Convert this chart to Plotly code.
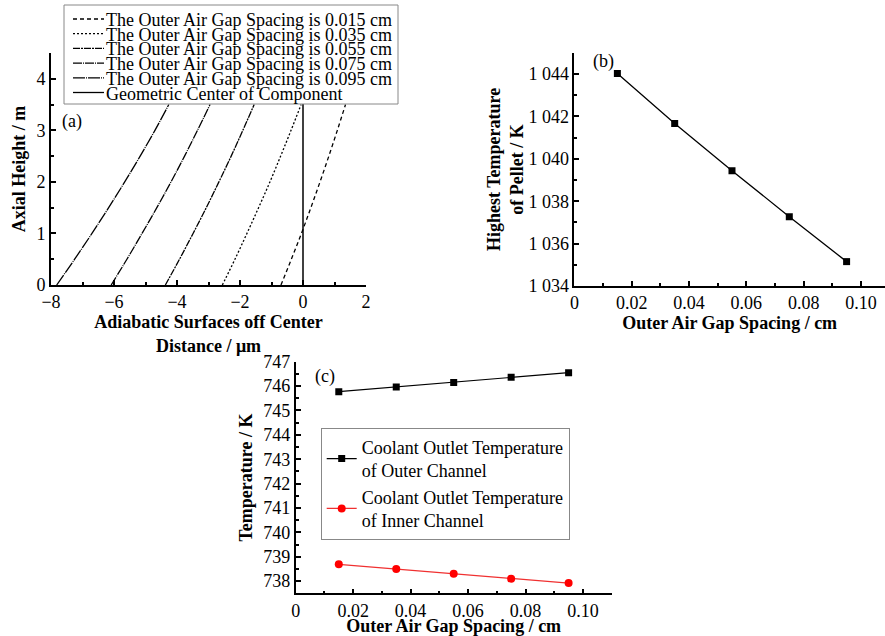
import plotly.graph_objects as go

FONT = "Liberation Serif, Times New Roman, serif"
W, H = 885, 636

# ---------------- data ----------------
# panel (a): axial height vs. adiabatic surface offset (um)
axial_height = [0, 0.5, 1.0, 1.5, 2.0, 2.5, 3.0, 3.5]
offset_015 = [-0.70, -0.37, -0.05, 0.25, 0.54, 0.82, 1.09, 1.35]
offset_035 = [-2.56, -2.16, -1.78, -1.41, -1.05, -0.71, -0.38, -0.06]
offset_055 = [-4.37, -3.92, -3.49, -3.07, -2.67, -2.28, -1.91, -1.55]
offset_075 = [-6.09, -5.59, -5.11, -4.64, -4.19, -3.76, -3.35, -2.95]
offset_095 = [-7.82, -7.25, -6.70, -6.17, -5.66, -5.17, -4.70, -4.26]
center_x = [0, 0]
center_y = [0, 4.5]

series_a_labels = [
    "The Outer Air Gap Spacing is 0.015 cm",
    "The Outer Air Gap Spacing is 0.035 cm",
    "The Outer Air Gap Spacing is 0.055 cm",
    "The Outer Air Gap Spacing is 0.075 cm",
    "The Outer Air Gap Spacing is 0.095 cm",
    "Geometric Center of Component",
]

# panels (b) and (c)
gap_spacing = [0.015, 0.035, 0.055, 0.075, 0.095]
pellet_max_T = [1044.02, 1041.67, 1039.44, 1037.27, 1035.15]
outer_outlet_T = [745.77, 745.96, 746.15, 746.36, 746.55]
inner_outlet_T = [738.69, 738.50, 738.30, 738.10, 737.92]

gap_ticks = [0, 0.02, 0.04, 0.06, 0.08, 0.10]
gap_ticktext = ["0", "0.02", "0.04", "0.06", "0.08", "0.10"]
pellet_ticks = [1034, 1036, 1038, 1040, 1042, 1044]
pellet_ticktext = ["1 034", "1 036", "1 038", "1 040", "1 042", "1 044"]

# ---------------- styles ----------------
dashes = ["4px,3px", "2px,2px", "7px,1px,2px,1px", "9px,1px,1px,1px", "12px,1px,1px,1px", "solid"]

def px(x):
    return x / W

def py(y):
    return 1 - y / H

fig = go.Figure()

a_series = [offset_015, offset_035, offset_055, offset_075, offset_095]
for xs, lab, d in zip(a_series, series_a_labels[:5], dashes[:5]):
    fig.add_trace(go.Scatter(
        x=xs, y=axial_height, mode="lines", name=lab, showlegend=False,
        line=dict(color="black", width=1.3, dash=d, shape="spline"),
        xaxis="x", yaxis="y"))
fig.add_trace(go.Scatter(
    x=center_x, y=center_y, mode="lines", name=series_a_labels[5], showlegend=False,
    line=dict(color="black", width=1.5), xaxis="x", yaxis="y"))

fig.add_trace(go.Scatter(
    x=gap_spacing, y=pellet_max_T, mode="lines+markers", showlegend=False,
    name="Highest Temperature of Pellet",
    line=dict(color="black", width=1.3),
    marker=dict(symbol="square", size=7, color="black"),
    xaxis="x2", yaxis="y2"))

fig.add_trace(go.Scatter(
    x=gap_spacing, y=outer_outlet_T, mode="lines+markers",
    name="Coolant Outlet Temperature<br>of Outer Channel",
    line=dict(color="black", width=1.2),
    marker=dict(symbol="square", size=7, color="black"),
    xaxis="x3", yaxis="y3"))
fig.add_trace(go.Scatter(
    x=gap_spacing, y=inner_outlet_T, mode="lines+markers",
    name="Coolant Outlet Temperature<br>of Inner Channel",
    line=dict(color="#f03030", width=1.2),
    marker=dict(symbol="circle", size=8, color="#ff0000"),
    xaxis="x3", yaxis="y3"))

axis_common = dict(
    showline=True, linecolor="black", linewidth=1.6, showgrid=False, zeroline=False,
    ticks="inside", ticklen=5, tickwidth=1.5, tickcolor="black",
    tickfont=dict(family=FONT, size=18, color="black"),
    mirror=False, automargin=False,
)
title_font = dict(family=FONT, size=18, color="black", weight="bold")

fig.update_layout(
    width=W, height=H,
    margin=dict(l=0, r=0, t=0, b=0),
    paper_bgcolor="white", plot_bgcolor="white",
    font=dict(family=FONT, size=18, color="black"),
    xaxis=dict(axis_common, domain=[px(51), px(366)], range=[-8, 2], dtick=2,
               minor=dict(ticks="inside", ticklen=3, dtick=1, tickcolor="black"),
               anchor="y",
               title=dict(text="Adiabatic Surfaces off Center<br>Distance / μm", font=title_font, standoff=0)),
    yaxis=dict(axis_common, domain=[py(285), py(53)], range=[0, 4.5], dtick=1,
               minor=dict(ticks="inside", ticklen=3, dtick=0.5, tickcolor="black"),
               anchor="x",
               title=dict(text="Axial Height / m", font=title_font, standoff=6)),
    xaxis2=dict(axis_common, domain=[px(574.4), 1.0], range=[0, 0.1084],
                tickvals=gap_ticks, ticktext=gap_ticktext,
                minor=dict(ticks="inside", ticklen=3, dtick=0.01, tickcolor="black"),
                anchor="y2",
                title=dict(text="Outer Air Gap Spacing / cm", font=title_font, standoff=4)),
    yaxis2=dict(axis_common, domain=[py(286), py(52.8)], range=[1034, 1045],
                tickvals=pellet_ticks, ticktext=pellet_ticktext,
                minor=dict(ticks="inside", ticklen=3, dtick=1, tickcolor="black"),
                anchor="x2",
                title=dict(text="Highest Temperature<br>of Pellet / K", font=title_font, standoff=0)),
    xaxis3=dict(axis_common, domain=[px(295.7), px(611.7)], range=[0, 0.11],
                tickvals=gap_ticks, ticktext=gap_ticktext,
                minor=dict(ticks="inside", ticklen=3, dtick=0.01, tickcolor="black"),
                anchor="y3",
                title=dict(text="Outer Air Gap Spacing / cm", font=title_font, standoff=2)),
    yaxis3=dict(axis_common, domain=[py(593.3), py(361.7)], range=[737.5, 747], dtick=1,
                minor=dict(ticks="inside", ticklen=3, dtick=0.5, tickcolor="black"),
                anchor="x3",
                title=dict(text="Temperature / K", font=title_font, standoff=6)),
    legend=dict(x=px(320.7), y=py(427.7), xanchor="left", yanchor="top",
                bgcolor="white", bordercolor="#888888", borderwidth=1,
                font=dict(family=FONT, size=18, color="black"),
                itemwidth=30, tracegroupgap=0),
)

# manual legend for panel (a) (compact, drawn over the plot like the original)
shapes = [dict(type="rect", xref="paper", yref="paper",
               x0=px(64), x1=px(398), y0=py(104), y1=py(5),
               line=dict(color="#888888", width=1), fillcolor="white", layer="above")]
annotations = []
for i, (lab, d) in enumerate(zip(series_a_labels, dashes)):
    row = 19.0 + i * 14.7
    shapes.append(dict(type="line", xref="paper", yref="paper",
                       x0=px(73), x1=px(104), y0=py(row), y1=py(row),
                       line=dict(color="black", width=1.3, dash=d), layer="above"))
    annotations.append(dict(xref="paper", yref="paper", x=px(104), y=py(row + 1),
                            xanchor="left", yanchor="middle", showarrow=False,
                            text=lab, font=dict(family=FONT, size=18, color="black")))

# panel labels
for lab, (x, y) in zip(["(a)", "(b)", "(c)"], [(71.7, 121.7), (603, 61.7), (325, 376.7)]):
    annotations.append(dict(xref="paper", yref="paper", x=px(x), y=py(y),
                            xanchor="center", yanchor="middle", showarrow=False,
                            text=lab, font=dict(family=FONT, size=18, color="black")))

fig.update_layout(shapes=shapes, annotations=annotations)
fig.write_html("out.html",
               post_script="document.body.style.margin='0';document.body.style.overflow='hidden';")
